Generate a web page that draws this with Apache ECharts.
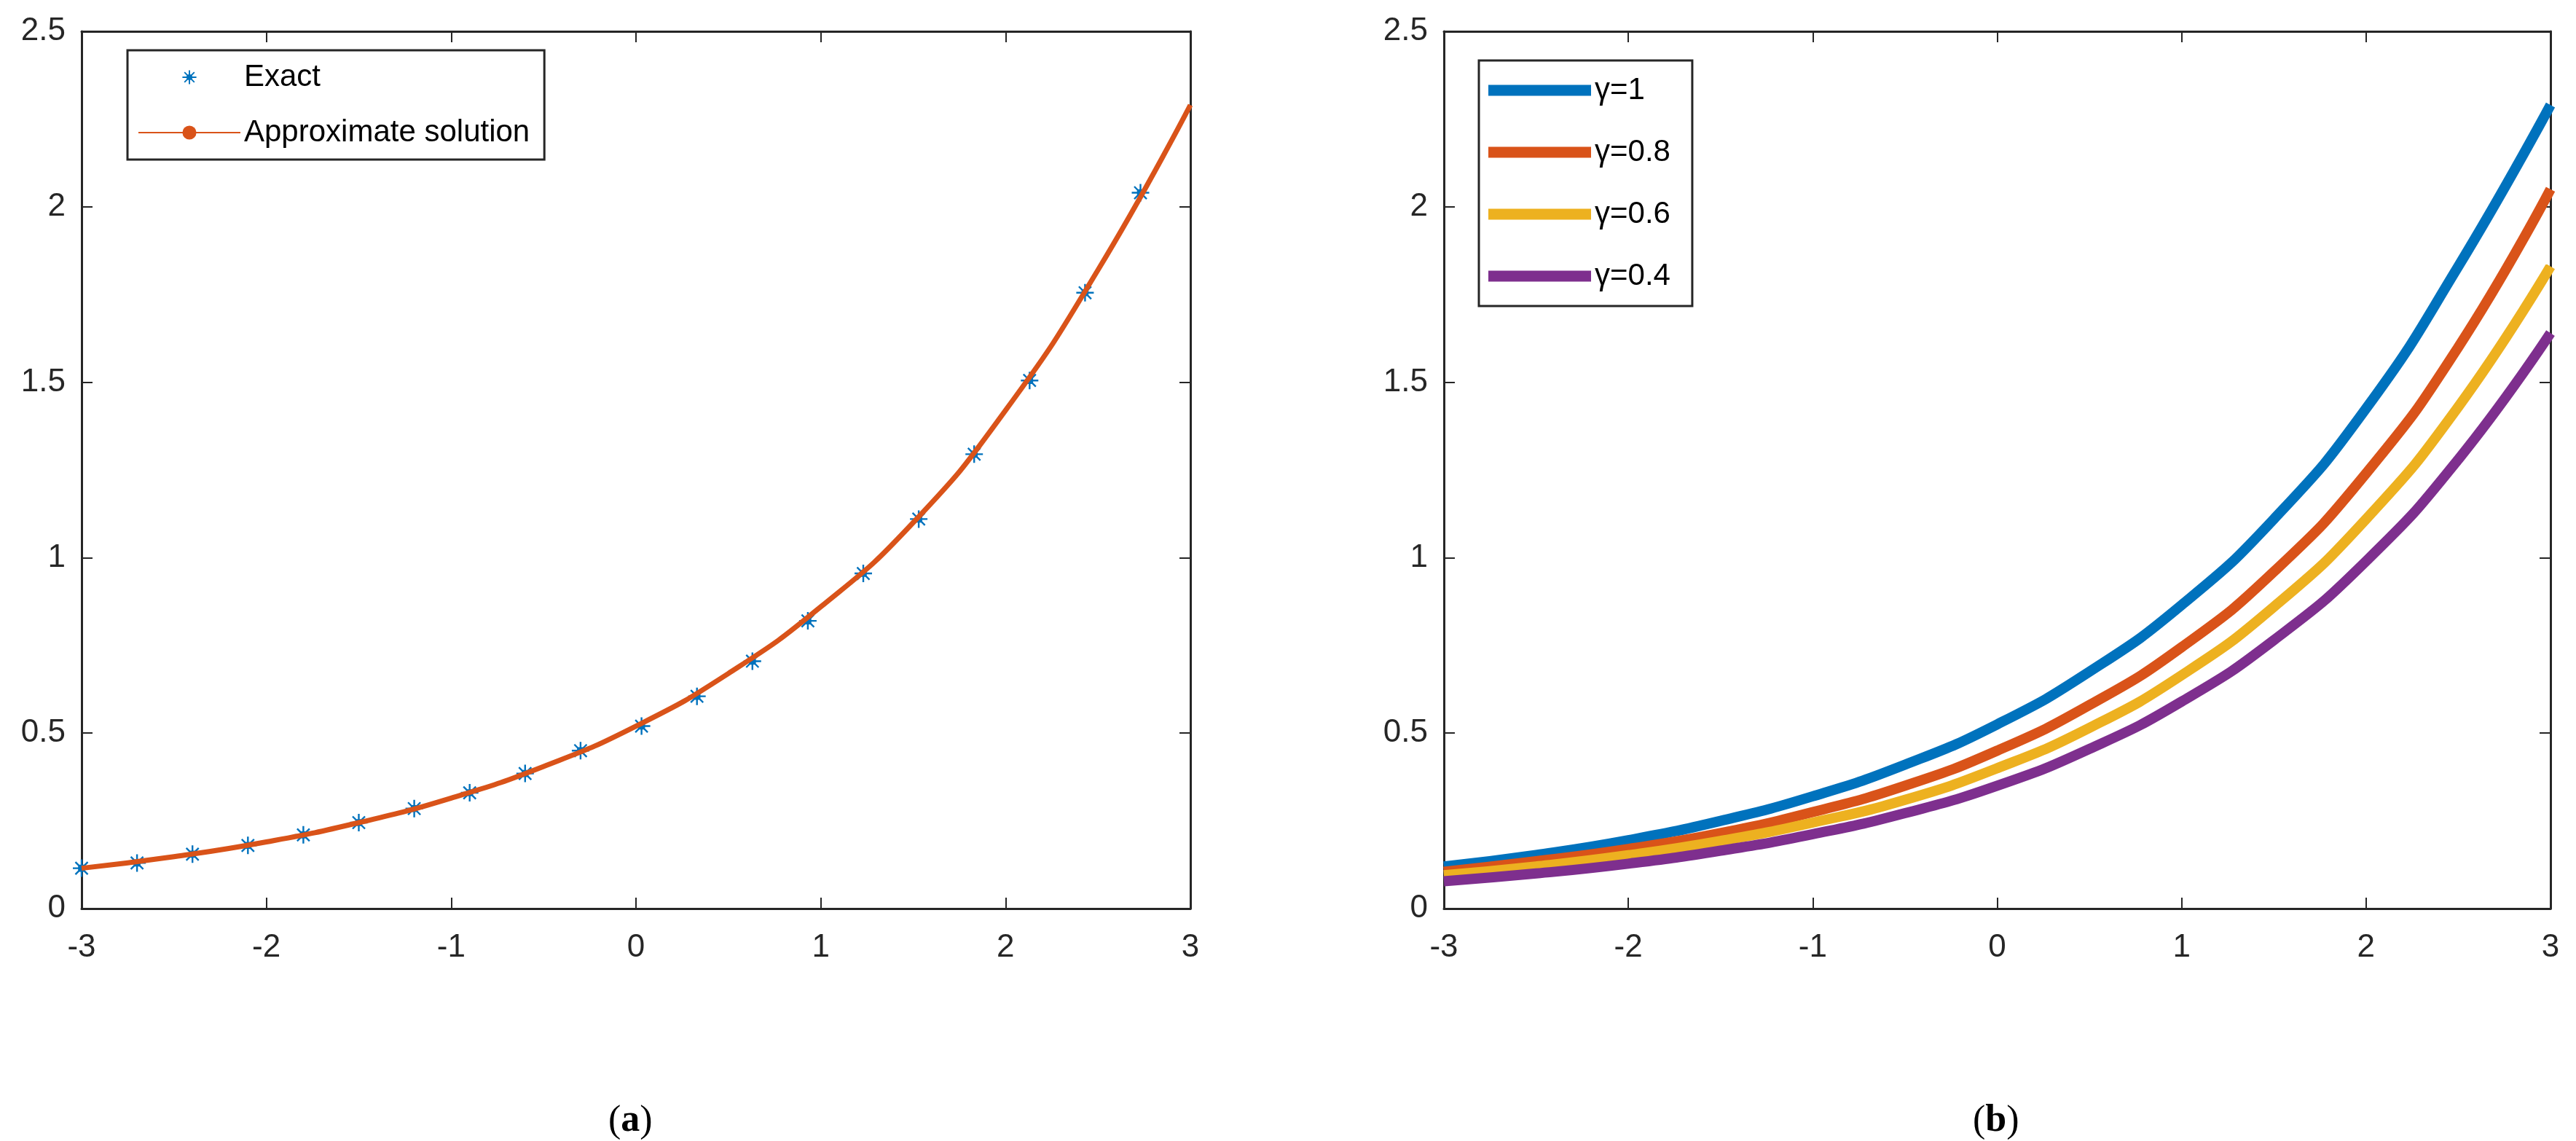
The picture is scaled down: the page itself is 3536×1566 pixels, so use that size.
<!DOCTYPE html>
<html><head><meta charset="utf-8">
<script src="https://cdn.jsdelivr.net/npm/echarts@6/dist/echarts.min.js"></script>
<style>html,body{margin:0;padding:0;background:#fff}#c{width:3536px;height:1566px}</style>
</head><body><div id="c"></div>
<script>
const xCurve = [-3,-2.5,-2,-1.5,-1,-0.5,0,0.5,1,1.5,2,2.5,3];
const approx = [0.115,0.148,0.19,0.245,0.315,0.405,0.52,0.67,0.86,1.10,1.42,1.82,2.29];
const xExact = [-3,-2.7,-2.4,-2.1,-1.8,-1.5,-1.2,-0.9,-0.6,-0.3,0.03,0.33,0.63,0.93,1.23,1.53,1.83,2.13,2.43,2.73];
const exact = [0.115,0.13,0.155,0.18,0.21,0.245,0.285,0.33,0.385,0.45,0.52,0.605,0.705,0.82,0.955,1.11,1.295,1.505,1.755,2.04];
const g10 = [0.12,0.153,0.195,0.25,0.32,0.41,0.525,0.675,0.865,1.11,1.425,1.83,2.29];
const g08 = [0.105,0.135,0.17,0.215,0.275,0.35,0.45,0.58,0.745,0.96,1.24,1.6,2.05];
const g06 = [0.095,0.12,0.152,0.193,0.245,0.31,0.40,0.515,0.665,0.86,1.11,1.43,1.83];
const g04 = [0.078,0.10,0.128,0.165,0.212,0.272,0.35,0.455,0.59,0.765,0.99,1.28,1.64];
const xTicks = [-3,-2,-1,0,1,2,3];
const yTicks = [0,0.5,1,1.5,2,2.5];

const FONT = '"Liberation Sans Narrow","Liberation Sans",Arial,sans-serif';
const AX = '#262626';
const zip = (xs, ys) => xs.map((x, i) => [x, ys[i]]);
const star = 'path://M9,0H11V20H9Z M0,9H20V11H0Z M2.2,3.6L3.6,2.2L17.8,16.4L16.4,17.8Z M16.4,2.2L17.8,3.6L3.6,17.8L2.2,16.4Z M6,6H14V14H6Z';

function xAxes(gi){
  const base = {gridIndex:gi,type:'value',min:-3,max:3,interval:1,
    axisLine:{onZero:false,lineStyle:{color:AX,width:3}},
    axisTick:{inside:true,length:15,lineStyle:{color:AX,width:2}},
    splitLine:{show:false}};
  return [
    Object.assign({},base,{position:'bottom',axisLabel:{color:AX,fontSize:44,fontFamily:FONT,margin:32}}),
    Object.assign({},base,{position:'top',axisLabel:{show:false}})
  ];
}
function yAxes(gi){
  const base = {gridIndex:gi,type:'value',min:0,max:2.5,interval:0.5,
    axisLine:{show:true,onZero:false,lineStyle:{color:AX,width:3}},
    axisTick:{show:true,inside:true,length:15,lineStyle:{color:AX,width:2}},
    splitLine:{show:false}};
  return [
    Object.assign({},base,{position:'left',axisLabel:{color:AX,fontSize:44,fontFamily:FONT,margin:22}}),
    Object.assign({},base,{position:'right',axisLabel:{show:false}})
  ];
}
const ln = (name, xi, yi, data, color, w) => ({name,type:'line',xAxisIndex:xi,yAxisIndex:yi,data,smooth:true,
  showSymbol:false,symbol:'none',lineStyle:{color,width:w},itemStyle:{color},z:3});

const option = {
  animation:false,
  grid:[{left:112,right:1902,top:43,bottom:319},{left:1982,right:35,top:43,bottom:319}],
  xAxis:[...xAxes(0),...xAxes(1)],
  yAxis:[...yAxes(0),...yAxes(1)],
  legend:[
    {data:['Exact','Approximate solution'],orient:'vertical',left:175,top:69,width:575,
     padding:[16,20,16,14],itemGap:34,itemWidth:140,itemHeight:24,
     borderColor:AX,borderWidth:3,backgroundColor:'#fff',
     textStyle:{fontSize:42,fontFamily:FONT,color:'#000',padding:[0,0,0,0]}},
    {data:['γ=1','γ=0.8','γ=0.6','γ=0.4'].map(n=>({name:n,icon:'rect'})),orient:'vertical',left:2030,top:83,
     padding:[20,30,20,13],itemGap:43,itemWidth:141,itemHeight:15,
     borderColor:AX,borderWidth:3,backgroundColor:'#fff',
     textStyle:{fontSize:42,fontFamily:FONT,color:'#000'}}
  ],
  series:[
    {name:'Exact',type:'line',xAxisIndex:0,yAxisIndex:0,data:zip(xExact,exact),
     symbol:star,symbolSize:24,lineStyle:{width:0,color:'#0072BD'},itemStyle:{color:'#0072BD'},z:2},
    ln('Approximate solution',0,0,zip(xCurve,approx),'#D95319',7),
    ln('γ=1',2,2,zip(xCurve,g10),'#0072BD',14),
    ln('γ=0.8',2,2,zip(xCurve,g08),'#D95319',14),
    ln('γ=0.6',2,2,zip(xCurve,g06),'#EDB120',14),
    ln('γ=0.4',2,2,zip(xCurve,g04),'#7E2F8E',14)
  ],
  graphic:[
    {type:'text',left:835,top:1513,style:{text:'({b|a})',font:'52px "Liberation Serif",serif',fill:'#000',
      align:'center',verticalAlign:'middle',rich:{b:{fontWeight:'bold',fontSize:52,fontFamily:'"Liberation Serif",serif'}}}},
    {type:'text',left:2708,top:1513,style:{text:'({b|b})',font:'52px "Liberation Serif",serif',fill:'#000',
      align:'center',verticalAlign:'middle',rich:{b:{fontWeight:'bold',fontSize:52,fontFamily:'"Liberation Serif",serif'}}}}
  ]
};
const chart = echarts.init(document.getElementById('c'));
chart.setOption(option);
</script></body></html>
